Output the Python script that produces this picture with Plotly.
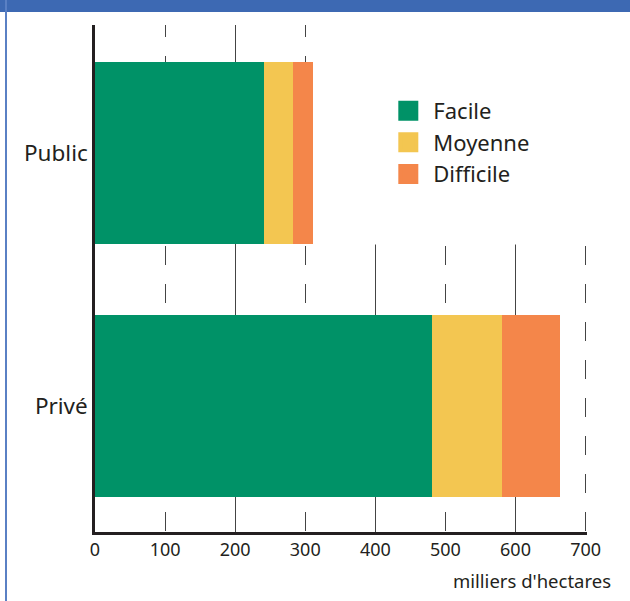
import plotly.graph_objects as go

categories = ["Privé", "Public"]
series_names = ["Facile", "Moyenne", "Difficile"]
facile = [481, 241]
moyenne = [100, 42]
difficile = [83, 28]
series_values = [facile, moyenne, difficile]
colors = ["#009267", "#F3C651", "#F4864A"]
x_ticks = [0, 100, 200, 300, 400, 500, 600, 700]
solid_grid = [200, 400, 600]
x_title = "milliers d'hectares"

FONT = "Noto Sans, Open Sans, sans-serif"
DARK = "#231F20"
GRID = "#444444"

fig = go.Figure()
for name, vals, col in zip(series_names, series_values, colors):
    fig.add_trace(go.Bar(
        y=categories, x=vals, orientation="h", name=name,
        marker=dict(color=col, line=dict(width=0)),
        showlegend=False,
    ))
    # legend proxies (larger square icons)
    fig.add_trace(go.Scatter(
        x=[None], y=[None], mode="markers", name=name,
        marker=dict(symbol="square", size=16, color=col,
                    line=dict(color=col, width=4)),
        showlegend=True,
    ))

fig.update_layout(
    width=630, height=601,
    margin=dict(l=95, r=43, t=25, b=69),
    paper_bgcolor="white", plot_bgcolor="white",
    barmode="stack", bargap=0.277,
    font=dict(family=FONT, color=DARK),
    xaxis=dict(
        range=[0, 702], tickvals=x_ticks,
        ticktext=[str(v) for v in x_ticks],
        showgrid=True, gridcolor=GRID, gridwidth=1.4,
        griddash="12px,19px,7px,0px",
        minor=dict(tickvals=solid_grid, showgrid=True, gridcolor=GRID,
                   gridwidth=1.4, griddash="solid", ticks=""),
        showline=True, linecolor=DARK, linewidth=2.5,
        ticks="", tickfont=dict(size=18, color=DARK),
        zeroline=False, fixedrange=True,
    ),
    yaxis=dict(
        type="category", categoryarray=categories,
        range=[-0.498, 1.506],
        showgrid=False, showline=True, linecolor=DARK, linewidth=2.5,
        ticks="", ticklabelstandoff=0, tickfont=dict(size=22.5, color=DARK),
        zeroline=False, fixedrange=True,
    ),
    legend=dict(
        x=0.586, y=0.872, xanchor="left", yanchor="top",
        bgcolor="rgba(0,0,0,0)", itemwidth=40, traceorder="normal",
        font=dict(size=22, color=DARK, family=FONT),
        tracegroupgap=0,
    ),
    shapes=[
        # white panel behind legend (hides grid in upper right, clear of bars)
        dict(type="rect", xref="paper", yref="paper", layer="above",
             x0=0.48, x1=1.2, y0=0.567, y1=1.005,
             fillcolor="white", line=dict(width=0)),
        # blue header band
        dict(type="rect", xref="paper", yref="paper", layer="above",
             x0=-0.3, x1=1.2, y0=(532 - 12) / 507, y1=1.2,
             fillcolor="#3D69B3", line=dict(width=0)),
        # left frame line
        dict(type="line", xref="paper", yref="paper", layer="above",
             x0=(6 - 95) / 492, x1=(6 - 95) / 492, y0=-0.2, y1=1.1,
             line=dict(color="#5A80C4", width=2)),
    ],
    annotations=[
        dict(text=x_title, xref="paper", yref="paper",
             x=(613 - 95) / 492, y=(532 - 580) / 507,
             xanchor="right", yanchor="middle", showarrow=False,
             font=dict(size=18.5, color=DARK, family=FONT)),
    ],
)

fig.write_html(
    "out.html",
    config={"displayModeBar": False},
    post_script="document.body.style.margin='0px';document.body.style.overflow='hidden';",
)
